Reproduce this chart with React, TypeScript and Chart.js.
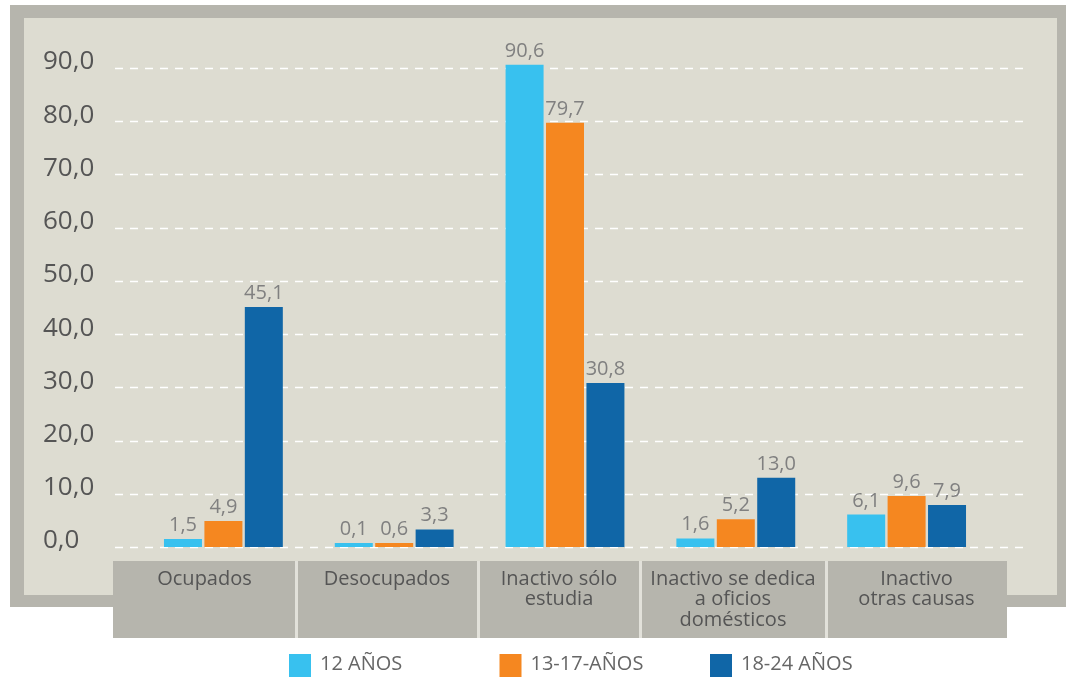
import React, { useEffect, useRef } from "react";
import { Chart, registerables } from "chart.js";

Chart.register(...registerables);

const categories: string[][] = [
  ["Ocupados"],
  ["Desocupados"],
  ["Inactivo sólo", "estudia"],
  ["Inactivo se dedica", "a oficios", "domésticos"],
  ["Inactivo", "otras causas"],
];
const seriesNames = ["12 AÑOS", "13-17-AÑOS", "18-24 AÑOS"];
const series12 = [1.5, 0.1, 90.6, 1.6, 6.1];
const series13_17 = [4.9, 0.6, 79.7, 5.2, 9.6];
const series18_24 = [45.1, 3.3, 30.8, 13.0, 7.9];
const yTicks = [0, 10, 20, 30, 40, 50, 60, 70, 80, 90];
const colors = ["#38c1ef", "#f58720", "#1066a7"];

const FONT = "'Open Sans', 'Noto Sans', sans-serif";
const fmt = (v: number) => v.toFixed(1).replace(".", ",");

const decorPlugin = {
  id: "decor",
  beforeDraw(chart: any) {
    const { ctx } = chart;
    const y = chart.scales.y;
    ctx.save();
    ctx.fillStyle = "#ffffff";
    ctx.fillRect(0, 0, chart.width, chart.height);
    // frame
    ctx.fillStyle = "#b6b5ad";
    ctx.fillRect(10, 5, 1056, 602);
    ctx.fillStyle = "#dddcd1";
    ctx.fillRect(24, 18, 1033, 577);
    // category boxes
    ctx.fillStyle = "#b6b5ad";
    ctx.fillRect(113, 561, 894, 77);
    ctx.fillStyle = "#e2e1da";
    [296, 478, 640, 826].forEach((x) => ctx.fillRect(x - 1, 561, 3, 77));
    // grid
    ctx.strokeStyle = "#ffffff";
    ctx.lineWidth = 1.5;
    ctx.setLineDash([8, 7]);
    yTicks.forEach((t) => {
      const py = Math.round(y.getPixelForValue(t)) + 0.5;
      ctx.beginPath();
      ctx.moveTo(115, py);
      ctx.lineTo(1025, py);
      ctx.stroke();
    });
    ctx.setLineDash([]);
    // y tick labels
    ctx.fillStyle = "#555555";
    ctx.font = `26px ${FONT}`;
    ctx.textAlign = "left";
    ctx.textBaseline = "middle";
    yTicks.forEach((t) => {
      ctx.fillText(fmt(t), 43, y.getPixelForValue(t) - 6);
    });
    // category labels
    const bounds = [113, 296, 478, 640, 826, 1007];
    ctx.fillStyle = "#555555";
    ctx.font = `20px ${FONT}`;
    ctx.textAlign = "center";
    ctx.textBaseline = "middle";
    (chart.data.labels as string[][]).forEach((lines, i) => {
      const cx = (bounds[i] + bounds[i + 1]) / 2;
      lines.forEach((ln, j) => ctx.fillText(ln, cx, 579 + j * 20.5));
    });
    ctx.restore();
  },
  afterDatasetsDraw(chart: any) {
    const { ctx } = chart;
    ctx.save();
    ctx.fillStyle = "#808080";
    ctx.font = `20px ${FONT}`;
    ctx.textAlign = "center";
    ctx.textBaseline = "alphabetic";
    chart.data.datasets.forEach((ds: any, di: number) => {
      const meta = chart.getDatasetMeta(di);
      meta.data.forEach((bar: any, i: number) => {
        ctx.fillText(fmt(ds.data[i]), bar.x, bar.y - 8);
      });
    });
    // legend
    ctx.font = `20px ${FONT}`;
    ctx.textAlign = "left";
    ctx.textBaseline = "middle";
    chart.data.datasets.forEach((ds: any, i: number) => {
      const lx = 289 + i * 210.5;
      ctx.fillStyle = ds.backgroundColor;
      ctx.fillRect(lx, 654, 22, 23);
      ctx.fillStyle = "#666666";
      ctx.fillText(ds.label, lx + 31, 664);
    });
    ctx.restore();
  },
};

export default function App() {
  const ref = useRef<HTMLCanvasElement>(null);
  useEffect(() => {
    document.body.style.margin = "0";
    const chart = new Chart(ref.current!, {
      type: "bar",
      data: {
        labels: categories as any,
        datasets: [series12, series13_17, series18_24].map((d, i) => ({
          label: seriesNames[i],
          data: d,
          backgroundColor: colors[i],
          borderWidth: 0,
          minBarLength: 4,
          categoryPercentage: 0.71,
          barPercentage: 0.94,
          clip: false as any,
        })),
      },
      options: {
        animation: false,
        responsive: false,
        devicePixelRatio: 1,
        layout: { padding: { left: 138, right: 74, top: 68, bottom: 130 } },
        plugins: { legend: { display: false }, tooltip: { enabled: false } },
        scales: {
          x: { display: false },
          y: { display: false, min: 0, max: 90 },
        },
      },
      plugins: [decorPlugin],
    });
    return () => chart.destroy();
  }, []);
  return <canvas ref={ref} width={1066} height={677} style={{ display: "block" }} />;
}
